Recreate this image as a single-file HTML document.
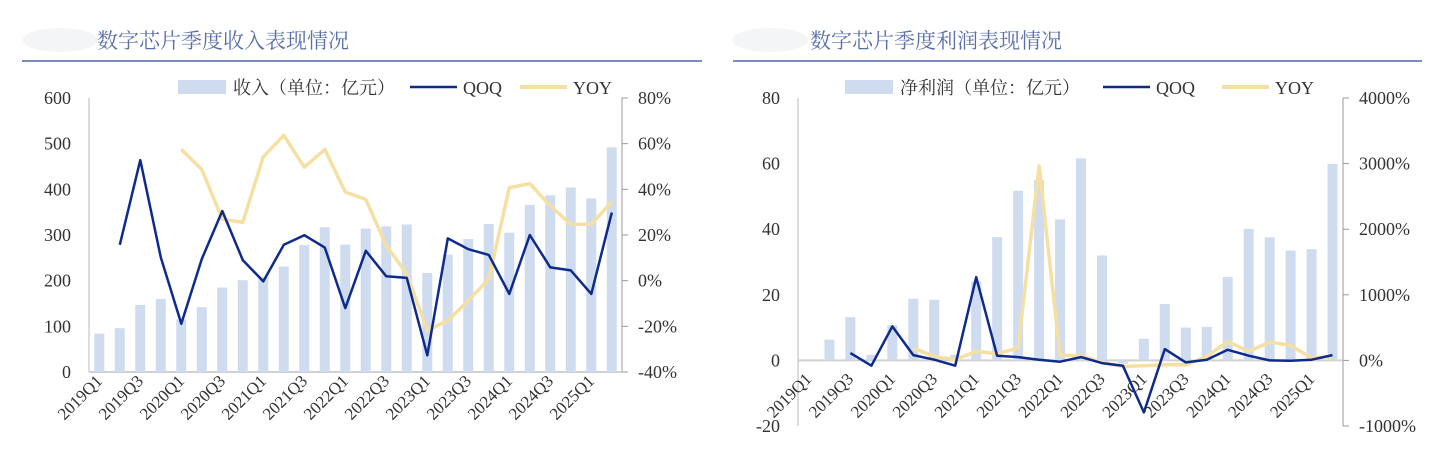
<!DOCTYPE html>
<html><head><meta charset="utf-8"><style>
body{margin:0;background:#fff;width:1430px;height:450px;overflow:hidden}
svg{display:block}
text{font-family:"Liberation Serif","Noto Serif CJK SC",serif;fill:#333}
</style></head><body>
<svg id="s" width="1430" height="450">
<g>
<ellipse cx="60" cy="40" rx="38" ry="12" fill="#f4f5f7"/>
<text x="97" y="48" font-size="21" style="fill:#5a6eaa">数字芯片季度收入表现情况</text>
<line x1="22" y1="61" x2="702" y2="61" stroke="#5064a8" stroke-width="1.5"/>
</g>
<g>
<ellipse cx="770" cy="40" rx="38" ry="12" fill="#f4f5f7"/>
<text x="810" y="48" font-size="21" style="fill:#5a6eaa">数字芯片季度利润表现情况</text>
<line x1="733" y1="61" x2="1422" y2="61" stroke="#5064a8" stroke-width="1.5"/>
</g>
</svg>
<script>
const quarters=["2019Q1","2019Q2","2019Q3","2019Q4","2020Q1","2020Q2","2020Q3","2020Q4","2021Q1","2021Q2","2021Q3","2021Q4","2022Q1","2022Q2","2022Q3","2022Q4","2023Q1","2023Q2","2023Q3","2023Q4","2024Q1","2024Q2","2024Q3","2024Q4","2025Q1","2025Q2"];
const revenue=[84,96,147,160,115,142,185,201,208,231,278,317,279,314,319,323,217,257,291,324,305,366,387,404,380,492];
const revQoq=[null,15.7,52.8,10.2,-18.9,9.5,30.5,9,-0.3,15.7,19.9,14.5,-12,13.1,1.9,1.2,-32.7,18.5,13.8,11.3,-5.8,20,5.8,4.5,-5.8,29.8];
const revYoy=[null,null,null,null,57.5,48.7,26.9,25.5,54.3,63.6,49.7,57.5,38.8,35.6,15.3,2.9,-21.8,-17.5,-8.7,0.7,40.7,42.5,32.7,24.7,24.7,34.6];
const profit=[0,6.3,13.2,1.7,10.7,18.8,18.5,1.7,24,37.6,51.7,55,43,61.6,32,-1,6.6,17.2,10,10.2,25.4,40.1,37.5,33.5,33.9,59.9];
const profQoq=[null,null,112,-81,518,81,10,-81,1269,71,51,10,-20,51,-41,-81,-792,173,-30,10,162,71,0,-5,10,81];
const profYoy=[null,null,null,null,null,188,61,10,137,102,188,2964,81,71,-30,-91,-81,-66,-66,61,289,137,279,228,36,61];
const leftTicksL=[0,100,200,300,400,500,600];
const rightTicksL=[-40,-20,0,20,40,60,80];
const leftTicksR=[-20,0,20,40,60,80];
const rightTicksR=[-1000,0,1000,2000,3000,4000];
const NS="http://www.w3.org/2000/svg";
const svg=document.getElementById('s');
function mk(t,a,p){const e=document.createElementNS(NS,t);for(const k in a)e.setAttribute(k,a[k]);(p||svg).appendChild(e);return e;}
function chart(cfg){
 const g=mk('g',{});
 
 
 const n=quarters.length,bw=(cfg.x1-cfg.x0)/n;
 const yL=v=>cfg.yTop+(cfg.lMax-v)/(cfg.lMax-cfg.lMin)*(cfg.yBot-cfg.yTop);
 const yR=v=>cfg.yTop+(cfg.rMax-v)/(cfg.rMax-cfg.rMin)*(cfg.yBot-cfg.yTop);
 const xc=i=>cfg.x0+bw*(i+0.5);
 const y0=yL(0);
 const ax=mk('line',{x1:cfg.x0,y1:cfg.yTop,x2:cfg.x0,y2:cfg.yBot,stroke:'#d0d0d0','stroke-width':1.5},g);
 
 const ar=mk('line',{x1:cfg.x1,y1:cfg.yTop,x2:cfg.x1,y2:cfg.yBot,stroke:'#999','stroke-width':1},g);
 
 const xa=mk('line',{x1:cfg.x0,y1:y0,x2:cfg.x1,y2:y0,stroke:'#d0d0d0','stroke-width':2},g);
 
 cfg.lt.forEach(v=>{const t=mk('text',{x:cfg.x0-18,y:yL(v)+6,'text-anchor':'end','font-size':18},g);t.textContent=v;
  });
 cfg.rt.forEach(v=>{mk('line',{x1:cfg.x1,y1:yR(v),x2:cfg.x1+6,y2:yR(v),stroke:'#999'},g);
  const t=mk('text',{x:cfg.x1+16,y:yR(v)+6,'font-size':18},g);t.textContent=v+'%';
  });
 cfg.bars.forEach((v,i)=>{const y=yL(v);const r=mk('rect',{x:xc(i)-5,y:Math.min(y,y0),width:10,height:Math.abs(y-y0),fill:'#cfdcf0'},g);
  });
 function line(arr,col,nm){let d='';arr.forEach((v,i)=>{if(v==null)return;d+=(d?'L':'M')+xc(i).toFixed(1)+','+yR(v).toFixed(1);});
  const p=mk('path',{d:d,fill:'none',stroke:col,'stroke-width':nm==='yoy-line'?3.5:2.5,'stroke-linejoin':'round'},g);
  }
 line(cfg.yoy,'#f5e0a2','yoy-line');
 line(cfg.qoq,'#0e2b8c','qoq-line');
 quarters.forEach((q,i)=>{if(i%2)return;const x=xc(i)+4,y=cfg.labY;
  const t=mk('text',{x:x,y:y,'text-anchor':'end','font-size':17,transform:`rotate(-45 ${x} ${y})`},g);t.textContent=q;
  });
 const L=cfg.leg;
 const lg=mk('g',{},g);
 mk('rect',{x:L[0],y:80,width:48,height:14,fill:'#cfdcf0'},lg);
 let t=mk('text',{x:L[0]+55,y:94,'font-size':18},lg);t.textContent=cfg.barName;
 mk('line',{x1:L[1],y1:87,x2:L[1]+47,y2:87,stroke:'#0e2b8c','stroke-width':2.5},lg);
 t=mk('text',{x:L[1]+53,y:94,'font-size':18},lg);t.textContent='QOQ';
 mk('line',{x1:L[2],y1:87,x2:L[2]+47,y2:87,stroke:'#f5e0a2','stroke-width':4},lg);
 t=mk('text',{x:L[2]+53,y:94,'font-size':18},lg);t.textContent='YOY';
}
chart({name:'revenue-chart',x0:89,x1:622,yTop:98,yBot:372,lMin:0,lMax:600,rMin:-40,rMax:80,lt:leftTicksL,rt:rightTicksL,
 bars:revenue,qoq:revQoq,yoy:revYoy,labY:382,leg:[178,410,520],barName:'收入（单位：亿元）'});
chart({name:'profit-chart',x0:798,x1:1343,yTop:98,yBot:426,lMin:-20,lMax:80,rMin:-1000,rMax:4000,lt:leftTicksR,rt:rightTicksR,
 bars:profit,qoq:profQoq,yoy:profYoy,labY:380,leg:[845,1103,1222],barName:'净利润（单位：亿元）'});
</script>
</body></html>
